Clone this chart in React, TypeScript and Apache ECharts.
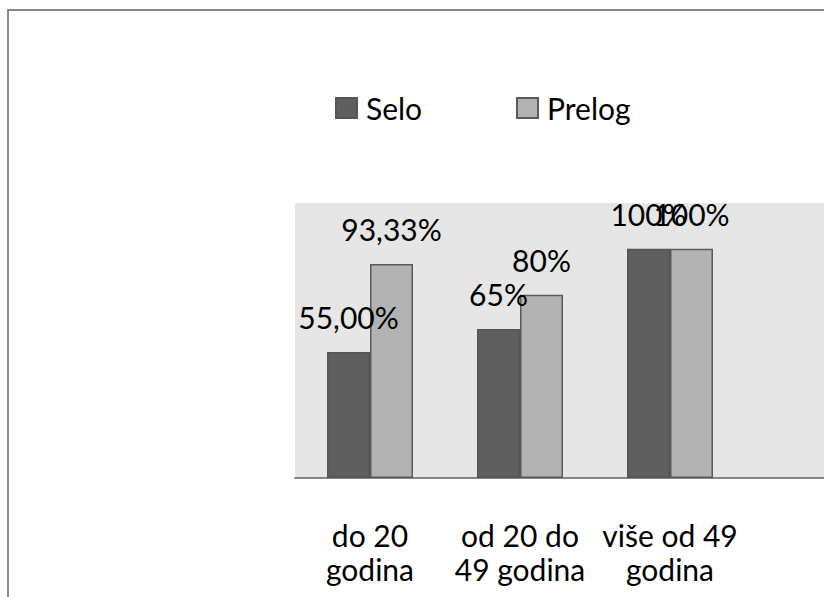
import React, { useEffect, useRef } from "react";
import * as echarts from "echarts";

const categories = ["do 20\ngodina", "od 20 do\n49 godina", "više od 49\ngodina"];
const seloValues = [55, 65, 100];
const prelogValues = [93.33, 80, 100];
const seloLabels = ["55,00%", "65%", "100%"];
const prelogLabels = ["93,33%", "80%", "100%"];
const seriesNames = ["Selo", "Prelog"];

const FONT = "Lato";

export default function App() {
  const ref = useRef<HTMLDivElement>(null);
  useEffect(() => {
    if (!ref.current) return;
    const chart = echarts.init(ref.current, undefined, { renderer: "svg" });
    const labelStyle = {
      show: true,
      position: "top" as const,
      distance: 20,
      fontFamily: FONT,
      fontSize: 30,
      lineHeight: 30,
      color: "#000",
    };
    const legendText = {
      fontFamily: FONT,
      fontSize: 30,
      color: "#000",
      padding: [0, 0, 0, 4],
    };
    chart.setOption({
      animation: false,
      backgroundColor: "#fff",
      graphic: [
        {
          type: "rect",
          z: -100,
          shape: { x: 8, y: 10, width: 1000, height: 1000 },
          style: { fill: "none", stroke: "#898989", lineWidth: 2 },
        },
      ],
      legend: [
        {
          data: [seriesNames[0]],
          left: 335,
          top: 93,
          padding: 0,
          itemWidth: 21,
          itemHeight: 20,
          icon: "rect",
          textStyle: legendText,
        },
        {
          data: [seriesNames[1]],
          left: 516,
          top: 93,
          padding: 0,
          itemWidth: 21,
          itemHeight: 20,
          icon: "rect",
          textStyle: legendText,
        },
      ],
      grid: {
        show: true,
        left: 295,
        top: 203,
        width: 600,
        height: 275,
        backgroundColor: "#e6e6e6",
        borderWidth: 0,
        containLabel: false,
      },
      xAxis: {
        type: "category",
        data: categories,
        max: 3,
        axisLine: { show: true, lineStyle: { color: "#868686", width: 2 } },
        axisTick: { show: false },
        axisLabel: {
          interval: 0,
          margin: 40,
          fontFamily: FONT,
          fontSize: 30,
          lineHeight: 34,
          color: "#000",
          formatter: (v: any) => (v == null ? "" : String(v)),
        },
        splitLine: { show: false },
      },
      yAxis: {
        type: "value",
        min: 0,
        max: 120,
        show: false,
        splitLine: { show: false },
      },
      series: [
        {
          name: seriesNames[0],
          type: "bar",
          data: seloValues,
          barWidth: 43,
          barGap: "0%",
          itemStyle: { color: "#5f5f5f", borderColor: "#555555", borderWidth: 1.5 },
          label: {
            ...labelStyle,
            formatter: (p: any) => seloLabels[p.dataIndex],
          },
        },
        {
          name: seriesNames[1],
          type: "bar",
          data: prelogValues,
          barWidth: 43,
          barGap: "0%",
          itemStyle: { color: "#b3b3b3", borderColor: "#5a5a5a", borderWidth: 1.5 },
          label: {
            ...labelStyle,
            formatter: (p: any) => prelogLabels[p.dataIndex],
          },
        },
      ],
    });
    return () => chart.dispose();
  }, []);
  return (
    <div
      ref={ref}
      style={{ position: "fixed", left: 0, top: 0, width: 920, height: 597 }}
    />
  );
}
